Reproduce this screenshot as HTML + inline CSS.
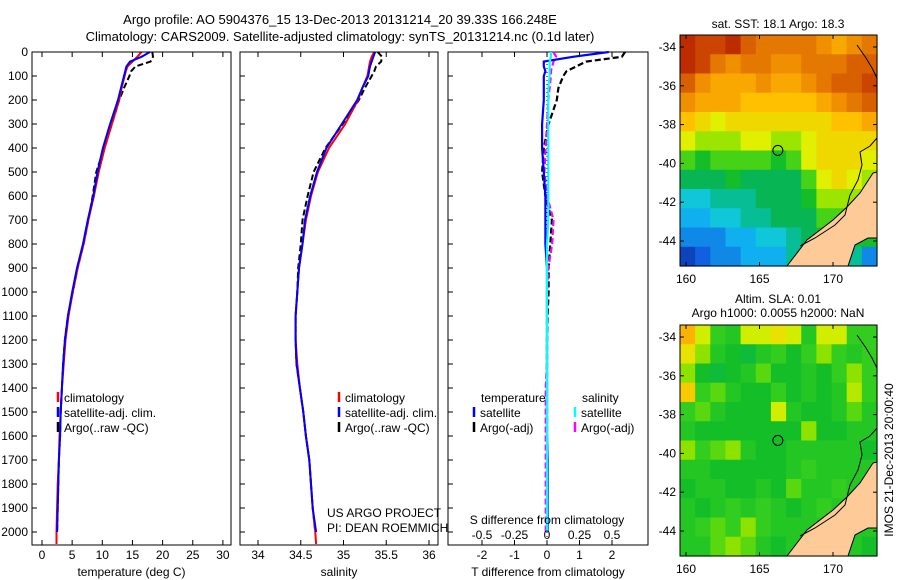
<!DOCTYPE html>
<html><head><meta charset="utf-8"><style>
body{margin:0;background:#fff;}
svg{display:block;font-family:"Liberation Sans",sans-serif;}
text{font-size:12px;fill:#000;}
</style></head><body>
<svg id="fig" width="900" height="580" viewBox="0 0 900 580">
<rect width="900" height="580" fill="#fff"/>
<text x="340" y="24" text-anchor="middle" style="font-size:13px">Argo profile: AO 5904376_15 13-Dec-2013 20131214_20 39.33S 166.248E</text>
<text x="340" y="41" text-anchor="middle" style="font-size:13px">Climatology: CARS2009. Satellite-adjusted climatology: synTS_20131214.nc (0.1d later)</text>
<g id="g"></g>
</svg>
<script>
const depths=[0,20,40,60,80,100,150,200,300,400,500,600,700,800,900,1000,1100,1200,1300,1400,1500,1600,1700,1800,1900,2000,2050];
const tempClim=[16.5,15.8,15.0,14.2,13.9,13.7,13.2,12.8,11.6,10.4,9.4,8.6,7.7,6.9,5.9,5.1,4.4,3.9,3.6,3.3,3.1,2.9,2.8,2.6,2.5,2.4,2.4];
const tempSat=[17.9,16.5,14.6,14.0,13.8,13.6,13.1,12.6,11.3,10.1,9.2,8.5,7.6,6.8,5.8,5.0,4.3,3.8,3.5,3.3,3.1,3.0,2.8,2.7,2.6,2.5,null];
const tempArgo=[18.3,18.4,18.0,15.5,14.8,14.5,13.6,12.8,11.6,10.3,9.0,8.4,7.7,6.9,5.9,5.1,4.3,3.8,3.5,3.3,3.1,3.0,2.8,2.7,2.6,2.5,null];
const salClim=[35.36,35.33,35.31,35.30,35.29,35.28,35.22,35.17,35.02,34.83,34.70,34.62,34.56,34.52,34.48,34.46,34.44,34.44,34.46,34.49,34.53,34.56,34.60,34.62,34.64,34.67,34.68];
const salSat=[35.37,35.35,35.33,35.31,35.30,35.29,35.22,35.16,34.98,34.80,34.69,34.61,34.55,34.52,34.48,34.46,34.44,34.44,34.45,34.49,34.53,34.56,34.60,34.62,34.64,34.68,null];
const salArgo=[35.40,35.45,35.44,35.38,35.36,35.33,35.25,35.18,34.99,34.79,34.65,34.58,34.52,34.50,34.47,34.46,34.44,34.44,34.45,34.49,34.53,34.56,34.60,34.62,34.64,34.67,null];
const tDiffSat=[1.9,0.8,-0.1,-0.1,-0.05,-0.1,-0.1,-0.1,-0.15,-0.15,-0.1,-0.05,-0.05,-0.05,0,0,0,0,0,0,0,0,0.02,0.02,0.02,0.02,null];
const tDiffArgo=[2.4,2.3,1.2,0.9,0.6,0.5,0.35,0.3,0.05,-0.1,-0.15,-0.05,0.15,0.1,0.05,0.05,0.02,0,0,0,0,0,0,0,0,0,null];
const sDiffSat=[0.03,0.03,0.02,0.02,0.02,0.02,0.01,0.01,0.01,0.01,0.01,0.01,0.01,0.0,0.0,0.0,0.0,0.0,0.0,0.0,0.0,0.0,0.0,0.0,0.0,0.0,null];
const sDiffArgo=[0.05,0.07,0.05,0.04,0.03,0.03,0.02,0.01,0,-0.01,-0.02,0.0,0.05,0.04,0.01,0,0,0,0,-0.01,-0.01,-0.01,-0.01,-0.01,-0.01,-0.01,null];
const depthTicks=[0,100,200,300,400,500,600,700,800,900,1000,1100,1200,1300,1400,1500,1600,1700,1800,1900,2000];
const tempTicks=[0,5,10,15,20,25,30];
const salTicks=[34,34.5,35,35.5,36];
const tdTicks=[-2,-1,0,1,2];
const sdTicks=[-0.5,-0.25,0,0.25,0.5];
const sdTickLabels=["-0.5","-0.25","0","0.25","0.5"];
const lonTicks=[160,165,170];
const latTicks=[-34,-36,-38,-40,-42,-44];
const sstGrid=[
[0.95,0.9,0.9,0.95,0.85,0.8,0.8,0.8,0.8,0.75,0.7,0.75,0.8],
[0.95,0.9,0.8,0.75,0.8,0.8,0.75,0.75,0.8,0.8,0.8,0.85,0.85],
[0.85,0.75,0.7,0.7,0.7,0.75,0.7,0.7,0.75,0.8,0.85,0.85,0.9],
[0.75,0.7,0.7,0.7,0.65,0.65,0.65,0.65,0.65,0.7,0.75,0.8,0.85],
[0.65,0.6,0.55,0.6,0.6,0.6,0.6,0.6,0.6,0.6,0.65,0.65,0.7],
[0.55,0.5,0.5,0.5,0.55,0.55,0.5,0.5,0.55,0.6,0.6,0.6,0.6],
[0.45,0.4,0.45,0.45,0.45,0.45,0.4,0.45,0.55,0.6,0.6,0.6,0.55],
[0.35,0.35,0.35,0.4,0.35,0.35,0.35,0.35,0.45,0.55,0.6,0.55,0.5],
[0.25,0.25,0.3,0.3,0.3,0.35,0.35,0.35,0.4,0.5,0.5,0.5,0.5],
[0.2,0.2,0.25,0.25,0.3,0.3,0.35,0.35,0.35,0.45,0.45,0.45,0.45],
[0.15,0.15,0.15,0.2,0.2,0.25,0.25,0.3,0.35,0.4,0.4,0.4,0.4],
[0.05,0.1,0.15,0.15,0.2,0.2,0.2,0.3,0.3,0.3,0.3,0.3,0.15]];
const slaGrid=[
[0.68,0.54,0.44,0.42,0.54,0.54,0.58,0.54,0.42,0.54,0.54,0.44,0.44],
[0.58,0.49,0.42,0.4,0.38,0.42,0.44,0.4,0.44,0.49,0.44,0.42,0.44],
[0.49,0.4,0.38,0.4,0.42,0.46,0.4,0.4,0.42,0.4,0.44,0.49,0.44],
[0.63,0.44,0.46,0.42,0.4,0.4,0.44,0.4,0.42,0.4,0.42,0.52,0.44],
[0.44,0.46,0.42,0.4,0.4,0.4,0.54,0.42,0.4,0.4,0.42,0.46,0.42],
[0.42,0.4,0.4,0.4,0.4,0.4,0.4,0.4,0.49,0.4,0.4,0.42,0.42],
[0.49,0.44,0.46,0.49,0.42,0.4,0.4,0.42,0.42,0.42,0.42,0.42,0.4],
[0.42,0.42,0.4,0.4,0.4,0.4,0.4,0.42,0.44,0.42,0.42,0.42,0.42],
[0.4,0.42,0.42,0.4,0.4,0.42,0.4,0.46,0.42,0.42,0.44,0.42,0.42],
[0.42,0.4,0.42,0.44,0.42,0.44,0.42,0.4,0.42,0.44,0.42,0.42,0.42],
[0.42,0.44,0.46,0.44,0.49,0.44,0.42,0.42,0.42,0.42,0.42,0.42,0.42],
[0.42,0.42,0.46,0.49,0.46,0.42,0.4,0.42,0.42,0.42,0.42,0.42,0.4]];
const argoLon=166.248, argoLat=-39.33;

const NS="http://www.w3.org/2000/svg";
const G=document.getElementById('g');
function mk(tag,attrs,parent,txt){const e=document.createElementNS(NS,tag);for(const k in attrs)e.setAttribute(k,attrs[k]);if(txt!==undefined)e.textContent=txt;(parent||G).appendChild(e);return e;}
const PT=52,PB=545;
const yD=d=>PT+d*0.24;
const cmapStops=[[0,[10,40,150]],[0.1,[16,96,224]],[0.2,[16,176,240]],[0.27,[16,208,208]],[0.32,[0,176,112]],[0.4,[20,190,40]],[0.44,[50,205,30]],[0.48,[128,224,0]],[0.55,[224,240,0]],[0.65,[255,192,0]],[0.75,[240,144,0]],[0.85,[216,96,0]],[1,[176,16,0]]];
function cmap(v){for(let i=1;i<cmapStops.length;i++){if(v<=cmapStops[i][0]){const a=cmapStops[i-1],b=cmapStops[i],t=(v-a[0])/(b[0]-a[0]);const c=a[1].map((x,j)=>Math.round(x+(b[1][j]-x)*t));return `rgb(${c})`;}}return 'rgb(176,16,0)';}

function panel(name,x0,x1,xs,ticks,labels,xtitle,series){
  const g=mk('g',{});
  
  
  series.forEach(s=>{
    let p='';depths.forEach((d,i)=>{const v=s.vals[i];if(v===null||v===undefined)return;p+=(p?'L':'M')+xs(v).toFixed(1)+','+yD(d).toFixed(1);});
    const e=mk('path',{d:p,fill:'none',stroke:s.color,'stroke-width':s.w||2,'stroke-dasharray':s.dash||'none'},g);
    
    
  });
  const fr=mk('rect',{x:x0,y:PT,width:x1-x0,height:PB-PT,fill:'none',stroke:'#000','stroke-width':1},g);
  
  
  ticks.forEach((t,i)=>{const x=xs(t);mk('line',{x1:x,x2:x,y1:PB,y2:PB-5,stroke:'#000'},g);mk('line',{x1:x,x2:x,y1:PT,y2:PT+5,stroke:'#000'},g);
    if(labels){const tx=mk('text',{x:x,y:559,'text-anchor':'middle'},g,labels[i]);}});
  depthTicks.forEach(d=>{mk('line',{x1:x0,x2:x0+5,y1:yD(d),y2:yD(d),stroke:'#000'},g);});
  const tt=mk('text',{x:(x0+x1)/2,y:576,'text-anchor':'middle'},g,xtitle);
  
  
  return g;
}
depthTicks.forEach(d=>{const t=mk('text',{x:28,y:yD(d)+4,'text-anchor':'end'},G,String(d));});
const xT=v=>42+v*6.03;
panel('temperature-panel',32,231,xT,tempTicks,tempTicks.map(String),'temperature (deg C)',[
 {vals:tempArgo,color:'#000',dash:'6,3',name:'argo-temperature'},
 {vals:tempClim,color:'#f00',name:'climatology-temperature'},
 {vals:tempSat,color:'#00f',name:'satellite-temperature'}]);
const xS=v=>258+(v-34)*85.5;
panel('salinity-panel',240,438,xS,salTicks,salTicks.map(String),'salinity',[
 {vals:salArgo,color:'#000',dash:'6,3',name:'argo-salinity'},
 {vals:salClim,color:'#f00',name:'climatology-salinity'},
 {vals:salSat,color:'#00f',name:'satellite-salinity'}]);
const xTD=v=>547+v*32.5, xSD=v=>547+v*130;
const p3=panel('difference-panel',448,648,xTD,tdTicks,tdTicks.map(String),'T difference from climatology',[]);
mk('line',{x1:547,x2:547,y1:PT,y2:PB,stroke:'#000','stroke-dasharray':'1,3'},p3);
[[tDiffArgo,'#000','6,3','argo-t-diff',xTD],[sDiffArgo,'#f0f','6,3','argo-s-diff',xSD],[tDiffSat,'#00f','none','satellite-t-diff',xTD],[sDiffSat,'#0ff','none','satellite-s-diff',xSD]].forEach(s=>{
 let p='';depths.forEach((d,i)=>{const v=s[0][i];if(v===null)return;p+=(p?'L':'M')+s[4](v).toFixed(1)+','+yD(d).toFixed(1);});
 const e=mk('path',{d:p,fill:'none',stroke:s[1],'stroke-width':2.2,'stroke-dasharray':s[2]},p3);
 
 
});
sdTicks.forEach((t,i)=>{const tx=mk('text',{x:xSD(t),y:539,'text-anchor':'middle'},p3,sdTickLabels[i]);});
const sdt=mk('text',{x:547,y:524,'text-anchor':'middle'},p3,'S difference from climatology');



function legend(name,items){
  const g=mk('g',{});
  
  
  items.forEach(it=>{
    if(it[3])mk('line',{x1:it[0],x2:it[0],y1:it[1]-10,y2:it[1],stroke:it[3],'stroke-width':2.5},g);
    mk('text',{x:it[0]+(it[3]?6:0),y:it[1]},g,it[2]);
  });
}
legend('temperature-legend',[[58,402,'climatology','#f00'],[58,417,'satellite-adj. clim.','#00f'],[58,432,'Argo(..raw -QC)','#000']]);
legend('salinity-legend',[[339,402,'climatology','#f00'],[339,417,'satellite-adj. clim.','#00f'],[339,432,'Argo(..raw -QC)','#000']]);
legend('difference-legend',[[481,402,'temperature',null],[474,417,'satellite','#00f'],[474,432,'Argo(-adj)','#000'],[582,402,'salinity',null],[575,417,'satellite','#0ff'],[575,432,'Argo(-adj)','#f0f']]);
const cr=mk('g',{});


mk('text',{x:327,y:517},cr,'US ARGO PROJECT');
mk('text',{x:327,y:532},cr,'PI: DEAN ROEMMICH');

const MX0=680,MX1=877;
const lonX=l=>686+(l-160)*14.7;
function mapPanel(name,y0,grid,titles){
  const y1=y0+231;
  const latY=la=>y0+12+(-34-la)*19.4;
  const g=mk('g',{});
  
  
  const cw=(MX1-MX0)/13,ch=(y1-y0)/12;
  grid.forEach((row,r)=>row.forEach((v,c)=>{mk('rect',{x:(MX0+c*cw).toFixed(2),y:(y0+r*ch).toFixed(2),width:(cw+0.6).toFixed(2),height:(ch+0.6).toFixed(2),fill:cmap(v)},g);}));
  const o=y0-35;
  const land=mk('polygon',{points:`787,${266+o} 807,${240+o} 833,${220+o} 847,${207+o} 860,${193+o} 873,${173+o} 877,${172+o} 877,${238+o} 868,${238+o} 855,${245+o} 848,${266+o}`,fill:'#fdca98',stroke:'#000','stroke-width':1},g);
  
  
  mk('polyline',{points:`857,${45+o} 866,${58+o} 872,${68+o} 877,${78+o}`,fill:'none',stroke:'#000','stroke-width':1},g);
  mk('polyline',{points:`877,${138+o} 870,${146+o} 860,${152+o} 862,${165+o} 858,${180+o} 850,${195+o} 845,${215+o} 835,${225+o} 815,${238+o} 800,${246+o}`,fill:'none',stroke:'#000','stroke-width':1},g);
  mk('rect',{x:MX0,y:y0,width:MX1-MX0,height:y1-y0,fill:'none',stroke:'#000'},g);
  lonTicks.forEach(l=>{const x=lonX(l);mk('line',{x1:x,x2:x,y1:y1,y2:y1-4,stroke:'#000'},g);mk('line',{x1:x,x2:x,y1:y0,y2:y0+4,stroke:'#000'},g);mk('text',{x:x,y:y1+17,'text-anchor':'middle'},g,String(l));});
  latTicks.forEach(la=>{const y=latY(la);mk('line',{x1:MX0,x2:MX0+4,y1:y,y2:y,stroke:'#000'},g);mk('line',{x1:MX1,x2:MX1-4,y1:y,y2:y,stroke:'#000'},g);mk('text',{x:676,y:y+4,'text-anchor':'end'},g,String(la));});
  const c=mk('circle',{cx:lonX(argoLon),cy:latY(argoLat),r:5,fill:'none',stroke:'#000','stroke-width':1},g);
  
  
  titles.forEach(t=>{const tx=mk('text',{x:778,y:t[1],'text-anchor':'middle'},g,t[0]);});
}
mapPanel('sst-map',35,sstGrid,[['sat. SST: 18.1 Argo: 18.3',28]]);
mapPanel('sla-map',325,slaGrid,[['Altim. SLA: 0.01',303],['Argo h1000: 0.0055 h2000: NaN',317]]);
const st=mk('text',{x:0,y:0,transform:'translate(893,460) rotate(-90)','text-anchor':'middle'},G,'IMOS 21-Dec-2013 20:00:40');


</script>
</body></html>
